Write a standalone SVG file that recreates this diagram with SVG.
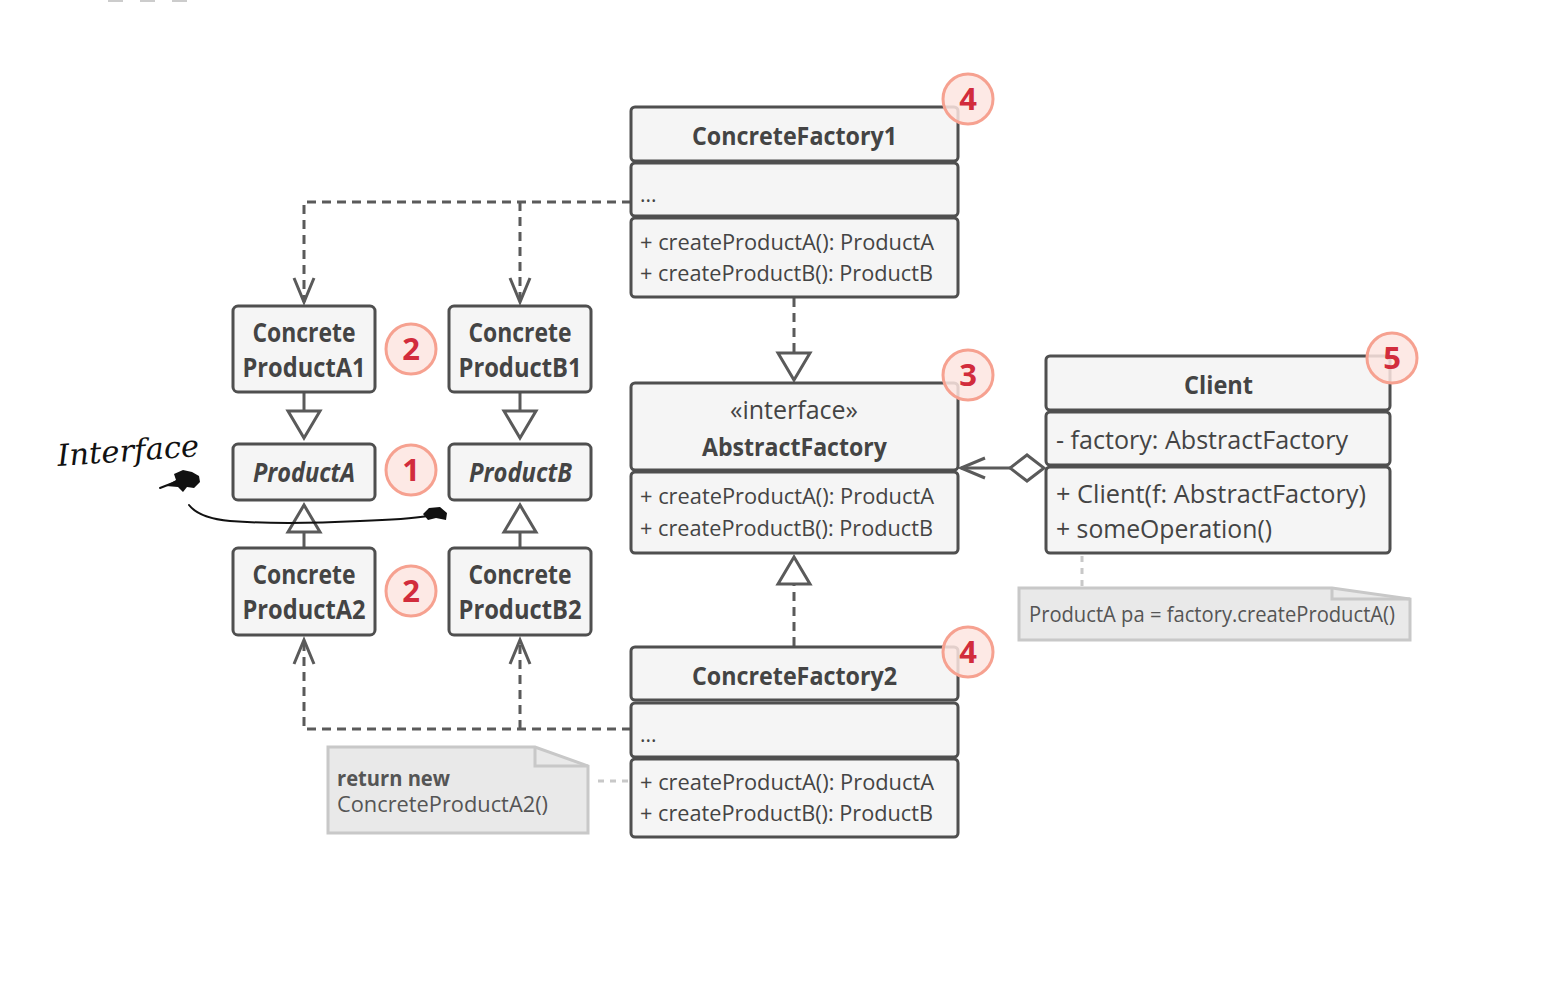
<svg xmlns="http://www.w3.org/2000/svg" width="1555" height="1000" viewBox="0 0 1555 1000">
<style>
.box{fill:#f5f5f5;stroke:#4f4f4f;stroke-width:3}
.t{font-family:"Open Sans","Liberation Sans",sans-serif;fill:#444}
.title{font-size:25px;font-weight:bold;text-anchor:middle}
.prod{font-size:26px;font-weight:bold;text-anchor:middle}
.ital{font-style:italic}
.mem{font-size:21px}
.cmem{font-size:25px}
.badge circle{fill:#fde5e0;fill-opacity:0.85;stroke:#f6a190;stroke-width:3}
.badge text{font-family:"Open Sans","Liberation Sans",sans-serif;font-size:31px;font-weight:bold;fill:#d22c3c;text-anchor:middle}
.dash{fill:none;stroke:#5a5a5a;stroke-width:3;stroke-dasharray:9 6}
.solid{fill:none;stroke:#5a5a5a;stroke-width:3}
.dot{fill:none;stroke:#c8c8c8;stroke-width:3;stroke-dasharray:6 6}
.note{fill:#e9e9e9;stroke:#c8c8c8;stroke-width:3}
.ntext{font-family:"Open Sans","Liberation Sans",sans-serif;font-size:21px;fill:#555}
.ink{fill:none;stroke:#111;stroke-width:2;stroke-linecap:round;stroke-linejoin:round}
</style>
<defs>
<marker id="open" markerUnits="userSpaceOnUse" viewBox="-26 -13 30 26" markerWidth="30" markerHeight="26" refX="0" refY="0" orient="auto">
<path d="M-24,-10 L0,0 L-24,10" fill="none" stroke="#5a5a5a" stroke-width="3"/>
</marker>
<marker id="tri" markerUnits="userSpaceOnUse" viewBox="-30 -19 33 38" markerWidth="33" markerHeight="38" refX="0" refY="0" orient="auto">
<path d="M0,0 L-27,-16 L-27,16 Z" fill="#fff" stroke="#5a5a5a" stroke-width="3"/>
</marker>
<marker id="dia" markerUnits="userSpaceOnUse" viewBox="-2 -16 38 32" markerWidth="38" markerHeight="32" refX="0" refY="0" orient="auto">
<path d="M0,0 L17,-13 L34,0 L17,13 Z" fill="#fff" stroke="#5a5a5a" stroke-width="3"/>
</marker>
</defs>
<rect width="1555" height="1000" fill="#fff"/>
<g id="topmarks" fill="#cccccc">
<rect x="108" y="0" width="15" height="2"/>
<rect x="140" y="0" width="15" height="2"/>
<rect x="172" y="0" width="15" height="2"/>
</g>

<g id="connectors">
<path class="dash" d="M631,202 H304 V302" marker-end="url(#open)"/>
<path class="dash" d="M520,202 V302" marker-end="url(#open)"/>
<path class="dash" d="M631,729 H304 V640" marker-end="url(#open)"/>
<path class="dash" d="M520,729 V640" marker-end="url(#open)"/>
<path class="solid" d="M304,392 V438" marker-end="url(#tri)"/>
<path class="solid" d="M520,392 V438" marker-end="url(#tri)"/>
<path class="solid" d="M304,548 V505" marker-end="url(#tri)"/>
<path class="solid" d="M520,548 V505" marker-end="url(#tri)"/>
<path class="dash" d="M794,298 V380" marker-end="url(#tri)"/>
<path class="dash" d="M794,646 V557" marker-end="url(#tri)"/>
<path class="solid" d="M1044,468 H961" marker-start="url(#dia)" marker-end="url(#open)"/>
<path class="dot" d="M1082,556 V587"/>
<path class="dot" d="M598,781 H631"/>
</g>

<g id="ConcreteFactory1">
<rect class="box" x="631" y="107" width="327" height="54" rx="4"/>
<rect class="box" x="631" y="163" width="327" height="53" rx="4"/>
<rect class="box" x="631" y="218" width="327" height="79" rx="4"/>
<text class="t title" x="794.5" y="145" textLength="205" lengthAdjust="spacingAndGlyphs">ConcreteFactory1</text>
<text class="t mem" x="640" y="202">...</text>
<text class="t mem" x="640" y="250" textLength="294" lengthAdjust="spacingAndGlyphs">+ createProductA(): ProductA</text>
<text class="t mem" x="640" y="281" textLength="293" lengthAdjust="spacingAndGlyphs">+ createProductB(): ProductB</text>
</g>

<g id="AbstractFactory">
<rect class="box" x="631" y="383" width="327" height="87" rx="4"/>
<rect class="box" x="631" y="472" width="327" height="81" rx="4"/>
<text class="t" x="794" y="419" font-size="25" text-anchor="middle" textLength="128" lengthAdjust="spacingAndGlyphs">«interface»</text>
<text class="t title" x="794.5" y="456" textLength="185" lengthAdjust="spacingAndGlyphs">AbstractFactory</text>
<text class="t mem" x="640" y="504" textLength="294" lengthAdjust="spacingAndGlyphs">+ createProductA(): ProductA</text>
<text class="t mem" x="640" y="536" textLength="293" lengthAdjust="spacingAndGlyphs">+ createProductB(): ProductB</text>
</g>

<g id="ConcreteFactory2">
<rect class="box" x="631" y="647" width="327" height="53" rx="4"/>
<rect class="box" x="631" y="703" width="327" height="54" rx="4"/>
<rect class="box" x="631" y="759" width="327" height="78" rx="4"/>
<text class="t title" x="794.5" y="685" textLength="205" lengthAdjust="spacingAndGlyphs">ConcreteFactory2</text>
<text class="t mem" x="640" y="742">...</text>
<text class="t mem" x="640" y="790" textLength="294" lengthAdjust="spacingAndGlyphs">+ createProductA(): ProductA</text>
<text class="t mem" x="640" y="821" textLength="293" lengthAdjust="spacingAndGlyphs">+ createProductB(): ProductB</text>
</g>

<g id="Client">
<rect class="box" x="1046" y="356" width="344" height="54" rx="4"/>
<rect class="box" x="1046" y="412" width="344" height="53" rx="4"/>
<rect class="box" x="1046" y="467" width="344" height="86" rx="4"/>
<text class="t title" x="1218.5" y="394" textLength="69" lengthAdjust="spacingAndGlyphs">Client</text>
<text class="t cmem" x="1056" y="449" textLength="292" lengthAdjust="spacingAndGlyphs">- factory: AbstractFactory</text>
<text class="t cmem" x="1056" y="503" textLength="310" lengthAdjust="spacingAndGlyphs">+ Client(f: AbstractFactory)</text>
<text class="t cmem" x="1056" y="538" textLength="216" lengthAdjust="spacingAndGlyphs">+ someOperation()</text>
</g>

<g id="ConcreteProductA1">
<rect class="box" x="233" y="306" width="142" height="86" rx="5"/>
<text class="t prod" x="304" y="342" textLength="103" lengthAdjust="spacingAndGlyphs">Concrete</text>
<text class="t prod" x="304" y="377" textLength="123" lengthAdjust="spacingAndGlyphs">ProductA1</text>
</g>
<g id="ConcreteProductB1">
<rect class="box" x="449" y="306" width="142" height="86" rx="5"/>
<text class="t prod" x="520" y="342" textLength="103" lengthAdjust="spacingAndGlyphs">Concrete</text>
<text class="t prod" x="520" y="377" textLength="123" lengthAdjust="spacingAndGlyphs">ProductB1</text>
</g>
<g id="ProductA">
<rect class="box" x="233" y="444" width="142" height="56" rx="5"/>
<text class="t prod ital" x="304" y="482" textLength="102" lengthAdjust="spacingAndGlyphs">ProductA</text>
</g>
<g id="ProductB">
<rect class="box" x="449" y="444" width="142" height="56" rx="5"/>
<text class="t prod ital" x="520.5" y="482" textLength="103" lengthAdjust="spacingAndGlyphs">ProductB</text>
</g>
<g id="ConcreteProductA2">
<rect class="box" x="233" y="548" width="142" height="87" rx="5"/>
<text class="t prod" x="304" y="584" textLength="103" lengthAdjust="spacingAndGlyphs">Concrete</text>
<text class="t prod" x="304" y="619" textLength="123" lengthAdjust="spacingAndGlyphs">ProductA2</text>
</g>
<g id="ConcreteProductB2">
<rect class="box" x="449" y="548" width="142" height="87" rx="5"/>
<text class="t prod" x="520" y="584" textLength="103" lengthAdjust="spacingAndGlyphs">Concrete</text>
<text class="t prod" x="520" y="619" textLength="123" lengthAdjust="spacingAndGlyphs">ProductB2</text>
</g>

<g id="noteClient">
<path class="note" d="M1019,588 H1332 L1410,599 V640 H1019 Z"/>
<path fill="none" stroke="#c8c8c8" stroke-width="3" d="M1332,588 V599 H1410"/>
<text class="ntext" x="1029" y="622" font-size="20" textLength="366" lengthAdjust="spacingAndGlyphs">ProductA pa = factory.createProductA()</text>
</g>
<g id="noteFactory2">
<path class="note" d="M328,747 H535 L588,766 V833 H328 Z"/>
<path fill="none" stroke="#c8c8c8" stroke-width="3" d="M535,747 V766 H588"/>
<text class="ntext" x="337" y="786" font-weight="bold" textLength="113" lengthAdjust="spacingAndGlyphs">return new</text>
<text class="ntext" x="337" y="812" textLength="211" lengthAdjust="spacingAndGlyphs">ConcreteProductA2()</text>
</g>

<g id="badge4a" class="badge"><circle cx="968" cy="99" r="25"/><text x="968" y="110">4</text></g>
<g id="badge3" class="badge"><circle cx="968" cy="375" r="25"/><text x="968" y="386">3</text></g>
<g id="badge4b" class="badge"><circle cx="968" cy="652" r="25"/><text x="968" y="663">4</text></g>
<g id="badge5" class="badge"><circle cx="1392" cy="358" r="25"/><text x="1392" y="369">5</text></g>
<g id="badge2a" class="badge"><circle cx="411" cy="349" r="25"/><text x="411" y="360">2</text></g>
<g id="badge1" class="badge"><circle cx="411" cy="470" r="25"/><text x="411" y="481">1</text></g>
<g id="badge2b" class="badge"><circle cx="411" cy="591" r="25"/><text x="411" y="602">2</text></g>

<g id="annotation">
<text x="58" y="466" font-family="'DejaVu Serif',serif" font-style="italic" font-size="30" fill="#111" textLength="142" lengthAdjust="spacingAndGlyphs" transform="rotate(-4 58 466)">Interface</text>
<path d="M166,486 L176,480 L174,474 L183,470 L192,472 L199,476 L200,482 L194,488 L187,487 L183,492 L178,487 Z" fill="#111"/>
<path class="ink" d="M160,488 L178,481"/>
<path class="ink" d="M189,505 C196,514 208,519 230,521 C270,524 320,523 360,521 C390,520 410,519 428,516"/>
<path d="M423,514 L429,508 L440,507 L447,513 L446,520 L436,518 L428,520 Z" fill="#111"/>
</g>
</svg>
